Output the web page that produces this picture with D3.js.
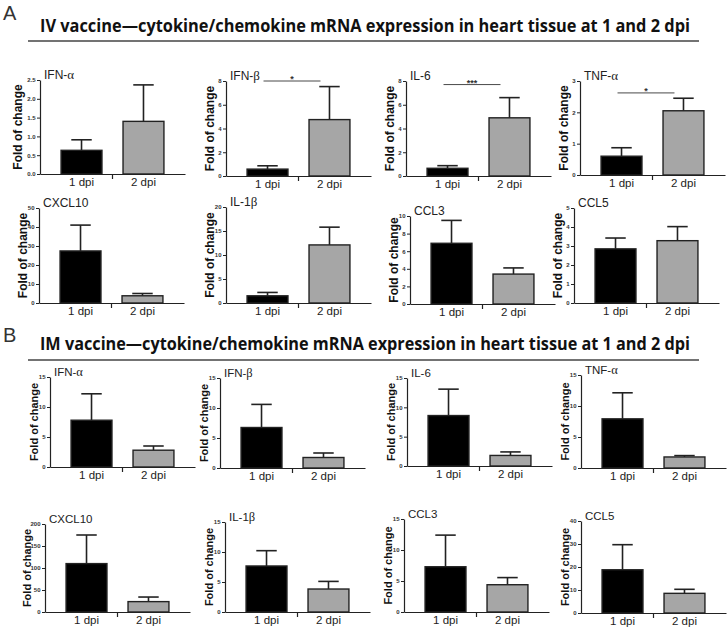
<!DOCTYPE html>
<html>
<head>
<meta charset="utf-8">
<script src="https://cdn.jsdelivr.net/npm/d3@7"></script>
<style>
	body { margin: 0; background: #fff; }
</style>
</head>
<body>
<div id="chartDiv"></div>
<script>
;(function() {

	// ---- data ----
	const groups = ["1 dpi", "2 dpi"];
	const genes = ["IFN-α", "IFN-β", "IL-6", "TNF-α", "CXCL10", "IL-1β", "CCL3", "CCL5"];

	// IV vaccine (panel A): mean and upper error
	const ivMean1 = [0.63, 0.58, 0.65, 0.60, 27.4, 1.5, 6.9, 2.85];
	const ivErr1  = [0.28, 0.28, 0.22, 0.27, 13.6, 0.7, 2.6, 0.57];
	const ivMean2 = [1.40, 4.75, 4.90, 2.05, 3.8, 12.1, 3.4, 3.28];
	const ivErr2  = [0.97, 2.78, 1.70, 0.40, 1.2, 3.7, 0.7, 0.74];
	const ivMax   = [2.5, 8, 8, 3, 50, 20, 10, 5];
	const ivStep  = [0.5, 2, 2, 1, 10, 5, 2, 1];
	const ivSig   = [null, "*", "***", "*", null, null, null, null];
	const ivSigAt = [null, 8, 7.7, 2.62, null, null, null, null];

	// IM vaccine (panel B)
	const imMean1 = [7.8, 6.75, 8.6, 7.93, 110, 7.67, 7.3, 18.8];
	const imErr1  = [4.4, 3.85, 4.5, 4.2, 65, 2.55, 5.1, 10.9];
	const imMean2 = [2.8, 1.75, 1.8, 1.78, 23.6, 3.83, 4.4, 8.55];
	const imErr2  = [0.7, 0.75, 0.6, 0.22, 10.4, 1.27, 1.15, 1.75];
	const imMax   = [15, 15, 15, 15, 200, 15, 15, 40];
	const imStep  = [5, 5, 5, 5, 50, 5, 5, 10];

	// ---- layout ----
	const width = 728;
	const height = 630;
	const plotWidth = 145;

	const ivAxisX  = [40, 226, 406, 580, 39, 226, 410, 574];
	const ivTop    = [80, 81, 81, 81, 208, 207, 216, 208];
	const ivBottom = [174, 176, 176, 175, 303, 303, 304, 303];
	const imAxisX  = [50, 220, 407, 581, 45, 225, 404, 581];
	const imTop    = [377, 378, 378, 375, 524, 522, 519, 521];
	const imBottom = [467, 468, 466, 468, 612, 612, 612, 613];

	const BAR_COLORS = ["#000000", "#a6a6a6"];
	const INK = "#222";
	const SANS = "'Liberation Sans', Arial, sans-serif";

	var chart = d3.select("#chartDiv").append("svg")
		.attr("width", width)
		.attr("height", height)
		.style("background", "#fff");

	drawHeader("A", "IV vaccine\u2014cytokine/chemokine mRNA expression in heart tissue at 1 and 2 dpi", 20, 32, 41);
	drawHeader("B", "IM vaccine\u2014cytokine/chemokine mRNA expression in heart tissue at 1 and 2 dpi", 342, 350, 360);

	genes.forEach(function(g, i) {
		drawPanel({
			name: g,
			means: [ivMean1[i], ivMean2[i]],
			errs: [ivErr1[i], ivErr2[i]],
			max: ivMax[i], step: ivStep[i],
			sig: ivSig[i], sigAt: ivSigAt[i],
			x0: ivAxisX[i], top: ivTop[i], bottom: ivBottom[i],
			labelSize: 12, titleSize: 12
		});
		drawPanel({
			name: g,
			means: [imMean1[i], imMean2[i]],
			errs: [imErr1[i], imErr2[i]],
			max: imMax[i], step: imStep[i],
			sig: null, sigAt: null,
			x0: imAxisX[i], top: imTop[i], bottom: imBottom[i],
			labelSize: 11, titleSize: 11.5
		});
	});

	function drawHeader(letter, title, letterY, titleY, lineY) {
		chart.append("text")
			.attr("x", 3)
			.attr("y", letterY)
			.style("font-family", SANS)
			.style("font-size", "20px")
			.attr("fill", "#333")
			.text(letter);

		chart.append("text")
			.attr("x", 40)
			.attr("y", titleY)
			.attr("textLength", 650)
			.attr("lengthAdjust", "spacingAndGlyphs")
			.style("font-family", "'Open Sans', 'Noto Sans', sans-serif")
			.style("font-weight", "bold")
			.style("font-size", "17px")
			.attr("fill", "#111")
			.text(title);

		chart.append("line")
			.attr("x1", 28).attr("x2", 699)
			.attr("y1", lineY).attr("y2", lineY)
			.attr("stroke", "#444")
			.attr("stroke-width", 1.3);
	}

	function drawPanel(p) {
		var g = chart.append("g");

		var yScale = d3.scaleLinear()
			.domain([0, p.max])
			.range([p.bottom, p.top]);

		var xScale = d3.scaleBand()
			.domain(groups)
			.range([p.x0, p.x0 + plotWidth])
			.paddingInner(0.34)
			.paddingOuter(0.34);

		var decimals = p.step < 1;
		var ticks = d3.range(0, p.max + p.step / 2, p.step);

		// y axis
		var yAxis = d3.axisLeft(yScale)
			.tickValues(ticks)
			.tickSize(3)
			.tickSizeOuter(0)
			.tickPadding(1.5)
			.tickFormat(decimals ? d3.format(".1f") : d3.format("d"));

		var yg = g.append("g")
			.attr("transform", "translate(" + p.x0 + ",0)")
			.call(yAxis);
		yg.select(".domain").attr("stroke", INK).attr("stroke-width", 1.2);
		yg.selectAll(".tick line").attr("stroke", INK).attr("stroke-width", 1);
		yg.selectAll(".tick text")
			.style("font-family", SANS)
			.style("font-size", "6px")
			.style("font-weight", "bold")
			.attr("fill", "#333");

		// x axis
		var xAxis = d3.axisBottom(xScale)
			.tickSize(0)
			.tickSizeOuter(0)
			.tickPadding(4);

		var xg = g.append("g")
			.attr("transform", "translate(0," + p.bottom + ")")
			.call(xAxis);
		xg.select(".domain").attr("stroke", INK).attr("stroke-width", 1.2);
		xg.selectAll(".tick text")
			.style("font-family", SANS)
			.style("font-size", "11.5px")
			.attr("fill", INK);

		// separator tick between the two groups
		var mid = (xScale(groups[0]) + xScale.bandwidth() + xScale(groups[1])) / 2;
		g.append("line")
			.attr("x1", mid).attr("x2", mid)
			.attr("y1", p.bottom).attr("y2", p.bottom + 5)
			.attr("stroke", INK)
			.attr("stroke-width", 1.2);

		// y axis header label
		var labelOffset = decimals ? 22 : (p.max >= 100 ? 18 : 16);
		g.append("text")
			.attr("text-anchor", "middle")
			.attr("transform", "translate(" + (p.x0 - labelOffset) + "," + ((p.top + p.bottom) / 2) + ") rotate(-90)")
			.attr("dy", "0.35em")
			.style("font-family", SANS)
			.style("font-size", p.labelSize + "px")
			.style("font-weight", "bold")
			.attr("fill", "#111")
			.text("Fold of change");

		// panel title, greek letters in serif
		var title = g.append("text")
			.attr("x", p.x0 + 4)
			.attr("y", p.top - 1)
			.style("font-family", SANS)
			.style("font-size", p.titleSize + "px")
			.attr("fill", INK);
		p.name.split(/([αβ])/).filter(s => s.length).forEach(function(part) {
			var ts = title.append("tspan").text(part);
			if (/[αβ]/.test(part)) ts.style("font-family", "'Liberation Serif', serif").style("font-size", (p.titleSize + 1) + "px");
		});

		var rows = groups.map(function(grp, i) {
			return { group: grp, mean: p.means[i], err: p.errs[i], color: BAR_COLORS[i] };
		});

		// error bars (upper only)
		var bw = xScale.bandwidth();
		g.selectAll(".err")
			.data(rows)
			.enter().append("line")
				.attr("class", "err")
				.attr("x1", d => xScale(d.group) + bw / 2)
				.attr("x2", d => xScale(d.group) + bw / 2)
				.attr("y1", d => yScale(d.mean))
				.attr("y2", d => yScale(d.mean + d.err))
				.attr("stroke", INK)
				.attr("stroke-width", 1.6);

		g.selectAll(".cap")
			.data(rows)
			.enter().append("line")
				.attr("class", "cap")
				.attr("x1", d => xScale(d.group) + bw / 4)
				.attr("x2", d => xScale(d.group) + bw * 3 / 4)
				.attr("y1", d => yScale(d.mean + d.err))
				.attr("y2", d => yScale(d.mean + d.err))
				.attr("stroke", INK)
				.attr("stroke-width", 1.6);

		// bars
		g.selectAll(".bar")
			.data(rows)
			.enter().append("rect")
				.attr("class", "bar")
				.attr("x", d => xScale(d.group))
				.attr("y", d => yScale(d.mean))
				.attr("width", bw)
				.attr("height", d => p.bottom - yScale(d.mean))
				.attr("fill", d => d.color)
				.attr("stroke", INK)
				.attr("stroke-width", 1.4);

		// significance bracket
		if (p.sig) {
			var c1 = xScale(groups[0]) + bw / 2 - 4;
			var c2 = xScale(groups[1]) + bw / 2 - 9;
			var sy = yScale(p.sigAt);
			g.append("line")
				.attr("x1", c1).attr("x2", c2)
				.attr("y1", sy).attr("y2", sy)
				.attr("stroke", "#333")
				.attr("stroke-width", 0.9);
			g.append("text")
				.attr("x", (c1 + c2) / 2)
				.attr("y", sy + 1)
				.attr("text-anchor", "middle")
				.style("font-family", SANS)
				.style("font-size", "9px")
				.style("font-weight", "bold")
				.attr("fill", "#333")
				.text(p.sig);
		}
	}
})();
</script>
</body>
</html>
